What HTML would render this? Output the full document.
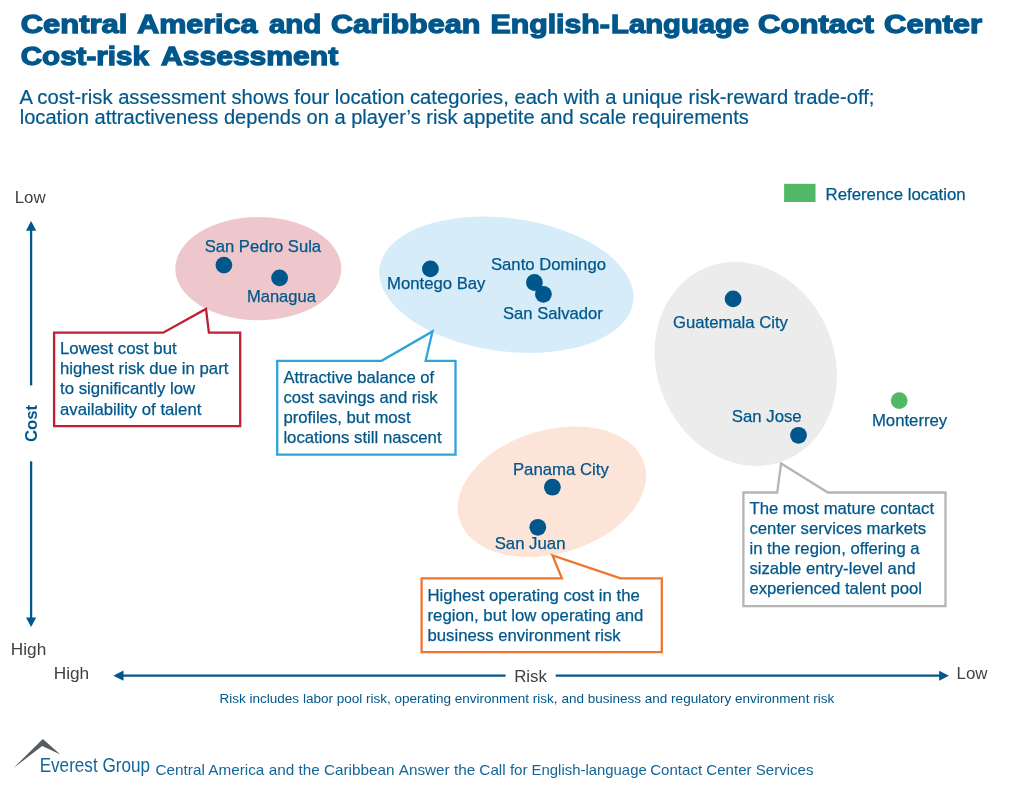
<!DOCTYPE html>
<html lang="en">
<head>
<meta charset="utf-8">
<title>Central America and Caribbean English-Language Contact Center Cost-risk Assessment</title>
<style>
html,body{margin:0;padding:0;background:#fff;}
body{width:1023px;height:790px;overflow:hidden;font-family:"Liberation Sans",sans-serif;}
svg{display:block;will-change:transform;}
text{font-family:"Liberation Sans",sans-serif;fill:#00578b;}
.t{font-weight:bold;font-size:26.6px;stroke:#00578b;stroke-width:1.3px;stroke-linejoin:miter;stroke-miterlimit:2.5;}
.s{font-size:20px;stroke:#00578b;stroke-width:0.2px;}
.l{font-size:16.6px;stroke:#00578b;stroke-width:0.25px;}
.g{fill:#404040;font-size:16.7px;}
.n{font-size:13.4px;}
.e{font-size:19.6px;fill:#146698;}
.f{font-size:14.6px;fill:#146698;}
.c{font-weight:bold;font-size:16.6px;}
</style>
</head>
<body>
<svg width="1023" height="790" viewBox="0 0 1023 790">
<rect width="1023" height="790" fill="#ffffff"/>
<g transform="translate(0.2 0.1)">
<!-- legend -->
<rect x="783.9" y="183.7" width="31.4" height="18.2" fill="#53b768"/>
<!-- ellipses -->
<ellipse cx="258.1" cy="268.6" rx="83" ry="51.6" fill="#eec7cc"/>
<ellipse cx="506.15" cy="284.65" rx="128" ry="66.6" fill="#d7ecf9" transform="rotate(7.6 506.15 284.65)"/>
<ellipse cx="745.55" cy="363.85" rx="88.6" ry="104.2" fill="#ececec" transform="rotate(-23 745.55 363.85)"/>
<ellipse cx="551.7" cy="491.65" rx="96.6" ry="61.7" fill="#fde4d9" transform="rotate(-16.5 551.7 491.65)"/>
<!-- callouts -->
<g fill="#ffffff" stroke-width="2.3" stroke-linejoin="miter">
<path d="M53.9 332.6 H163 L205.8 308.8 L208.7 332.6 H240 V426.1 H53.9 Z" stroke="#c0202f"/>
<path d="M277 360.7 H381.4 L432.3 331.3 L425.4 360.7 H455.3 V454.5 H277 Z" stroke="#2ea3dc"/>
<path d="M421.4 578.3 H561.7 L552.3 555.4 L620.4 578.3 H661.6 V652 H421.4 Z" stroke="#f0762f"/>
<path d="M743.2 492.4 H777 L780.9 463.3 L827.6 492.4 H945.3 V606.1 H743.2 Z" stroke="#b5b5b5"/>
</g>
<!-- dots -->
<g fill="#00578b">
<circle cx="223.7" cy="265" r="8.4"/>
<circle cx="279.4" cy="277.8" r="8.4"/>
<circle cx="430.2" cy="268.8" r="8.4"/>
<circle cx="534.2" cy="282.4" r="8.4"/>
<circle cx="543.2" cy="294.2" r="8.4"/>
<circle cx="732.9" cy="298.8" r="8.4"/>
<circle cx="798.3" cy="435.2" r="8.4"/>
<circle cx="552.2" cy="487.1" r="8.4"/>
<circle cx="537.6" cy="527.2" r="8.4"/>
</g>
<circle cx="899" cy="400.5" r="8.4" fill="#53b768"/>
<!-- axes -->
<g stroke="#00578b" stroke-width="2.3" fill="none">
<line x1="30.9" y1="230" x2="30.9" y2="385.3"/>
<line x1="30.9" y1="461.2" x2="30.9" y2="618.5"/>
<line x1="122" y1="675.6" x2="505.4" y2="675.6"/>
<line x1="555.5" y1="675.6" x2="940" y2="675.6"/>
</g>
<g fill="#00578b">
<path d="M30.9 220.9 L36 230.6 H25.8 Z"/>
<path d="M30.9 626.8 L36 617.3 H25.8 Z"/>
<path d="M113.1 675.6 L123.3 670.5 V680.7 Z"/>
<path d="M948.7 675.6 L938.9 670.6 V680.6 Z"/>
</g>
<text class="c" transform="translate(36.9 441.9) rotate(-90)" textLength="37.2" lengthAdjust="spacingAndGlyphs">Cost</text>
<!-- logo -->
<path d="M13.2 768 L42.6 738.8 L60.2 754.4 L42 746 Z" fill="#575c62"/>
<text class="t" y="33.30"><tspan x="20.52" textLength="106.69" lengthAdjust="spacingAndGlyphs">Central</tspan> <tspan x="136.99" textLength="120.22" lengthAdjust="spacingAndGlyphs">America</tspan> <tspan x="268.72" textLength="52.42" lengthAdjust="spacingAndGlyphs">and</tspan> <tspan x="330.83" textLength="149.39" lengthAdjust="spacingAndGlyphs">Caribbean</tspan> <tspan x="490.28" textLength="119.49" lengthAdjust="spacingAndGlyphs">English-</tspan><tspan x="610.93" textLength="137.95" lengthAdjust="spacingAndGlyphs">Language</tspan> <tspan x="757.71" textLength="115.89" lengthAdjust="spacingAndGlyphs">Contact</tspan> <tspan x="883.92" textLength="97.99" lengthAdjust="spacingAndGlyphs">Center</tspan></text>
<text class="t" y="65.30"><tspan x="20.54" textLength="128.18" lengthAdjust="spacingAndGlyphs">Cost-risk</tspan> <tspan x="160.78" textLength="177.28" lengthAdjust="spacingAndGlyphs">Assessment</tspan></text>
<text class="s" x="19.20" y="103.50" textLength="855.00" lengthAdjust="spacingAndGlyphs">A cost-risk assessment shows four location categories, each with a unique risk-reward trade-off;</text>
<text class="s" x="19.55" y="123.70" textLength="729.07" lengthAdjust="spacingAndGlyphs">location attractiveness depends on a player’s risk appetite and scale requirements</text>
<text class="l" x="825.33" y="199.90" textLength="140.05" lengthAdjust="spacingAndGlyphs">Reference location</text>
<text class="l" x="59.79" y="354.20" textLength="116.68" lengthAdjust="spacingAndGlyphs">Lowest cost but</text>
<text class="l" x="59.79" y="374.30" textLength="168.37" lengthAdjust="spacingAndGlyphs">highest risk due in part</text>
<text class="l" x="59.79" y="394.40" textLength="135.20" lengthAdjust="spacingAndGlyphs">to significantly low</text>
<text class="l" x="59.79" y="414.50" textLength="141.38" lengthAdjust="spacingAndGlyphs">availability of talent</text>
<text class="l" x="283.20" y="382.60" textLength="150.76" lengthAdjust="spacingAndGlyphs">Attractive balance of</text>
<text class="l" x="283.20" y="402.70" textLength="154.28" lengthAdjust="spacingAndGlyphs">cost savings and risk</text>
<text class="l" x="283.20" y="422.80" textLength="127.21" lengthAdjust="spacingAndGlyphs">profiles, but most</text>
<text class="l" x="283.20" y="443.00" textLength="158.16" lengthAdjust="spacingAndGlyphs">locations still nascent</text>
<text class="l" x="427.34" y="600.80" textLength="212.24" lengthAdjust="spacingAndGlyphs">Highest operating cost in the</text>
<text class="l" x="427.34" y="621.00" textLength="215.80" lengthAdjust="spacingAndGlyphs">region, but low operating and</text>
<text class="l" x="427.34" y="641.20" textLength="193.20" lengthAdjust="spacingAndGlyphs">business environment risk</text>
<text class="l" x="749.25" y="513.90" textLength="184.58" lengthAdjust="spacingAndGlyphs">The most mature contact</text>
<text class="l" x="749.25" y="534.00" textLength="176.62" lengthAdjust="spacingAndGlyphs">center services markets</text>
<text class="l" x="749.25" y="554.10" textLength="170.10" lengthAdjust="spacingAndGlyphs">in the region, offering a</text>
<text class="l" x="749.25" y="574.20" textLength="166.02" lengthAdjust="spacingAndGlyphs">sizable entry-level and</text>
<text class="l" x="749.25" y="594.30" textLength="172.50" lengthAdjust="spacingAndGlyphs">experienced talent pool</text>
<text class="l" x="204.45" y="252.30" textLength="116.45" lengthAdjust="spacingAndGlyphs">San Pedro Sula</text>
<text class="l" x="246.76" y="301.90" textLength="68.90" lengthAdjust="spacingAndGlyphs">Managua</text>
<text class="l" x="386.84" y="288.80" textLength="98.39" lengthAdjust="spacingAndGlyphs">Montego Bay</text>
<text class="l" x="490.75" y="270.40" textLength="115.00" lengthAdjust="spacingAndGlyphs">Santo Domingo</text>
<text class="l" x="502.85" y="319.10" textLength="99.69" lengthAdjust="spacingAndGlyphs">San Salvador</text>
<text class="l" x="672.75" y="328.00" textLength="115.01" lengthAdjust="spacingAndGlyphs">Guatemala City</text>
<text class="l" x="731.54" y="421.90" textLength="69.95" lengthAdjust="spacingAndGlyphs">San Jose</text>
<text class="l" x="871.74" y="426.20" textLength="75.31" lengthAdjust="spacingAndGlyphs">Monterrey</text>
<text class="l" x="512.74" y="474.60" textLength="95.86" lengthAdjust="spacingAndGlyphs">Panama City</text>
<text class="l" x="494.44" y="549.30" textLength="70.84" lengthAdjust="spacingAndGlyphs">San Juan</text>
<text class="g" x="14.54" y="202.90" textLength="30.89" lengthAdjust="spacingAndGlyphs">Low</text>
<text class="g" x="10.61" y="655.00" textLength="35.40" lengthAdjust="spacingAndGlyphs">High</text>
<text class="g" x="53.51" y="679.10" textLength="35.51" lengthAdjust="spacingAndGlyphs">High</text>
<text class="g" x="513.94" y="681.50" textLength="32.82" lengthAdjust="spacingAndGlyphs">Risk</text>
<text class="g" x="956.34" y="679.30" textLength="30.99" lengthAdjust="spacingAndGlyphs">Low</text>
<text class="n" x="219.29" y="702.50" textLength="614.70" lengthAdjust="spacingAndGlyphs">Risk includes labor pool risk, operating environment risk, and business and regulatory environment risk</text>
<text class="e" x="39.47" y="771.80" textLength="110.25" lengthAdjust="spacingAndGlyphs">Everest Group</text>
<text class="f" y="775.00"><tspan x="155.31" textLength="239.10" lengthAdjust="spacingAndGlyphs">Central America and the Caribbean</tspan> <tspan x="398.60" textLength="128.91" lengthAdjust="spacingAndGlyphs">Answer the Call for</tspan> <tspan x="531.42" textLength="115.12" lengthAdjust="spacingAndGlyphs">English-language</tspan> <tspan x="650.03" textLength="163.27" lengthAdjust="spacingAndGlyphs">Contact Center Services</tspan></text>

</g>
</svg>
</body>
</html>
